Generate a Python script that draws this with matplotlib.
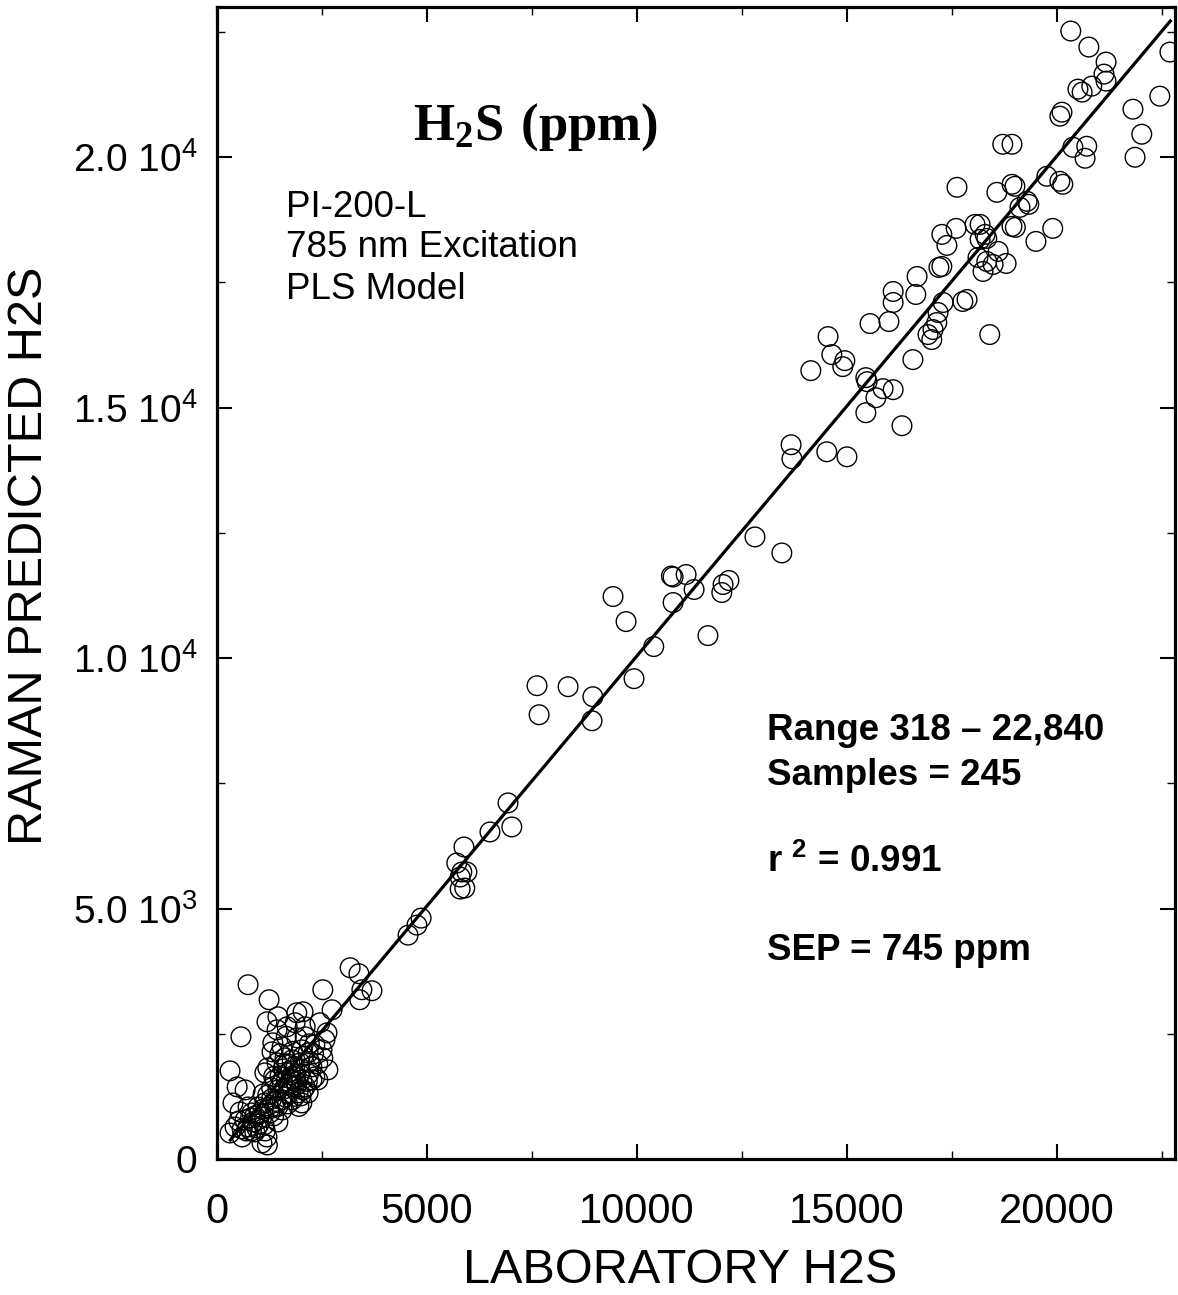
import matplotlib
matplotlib.use('Agg')
import matplotlib.pyplot as plt
from matplotlib.ticker import MultipleLocator, FixedLocator, FixedFormatter

plt.rcParams['font.family'] = 'Liberation Sans'
plt.rcParams['mathtext.fontset'] = 'custom'
plt.rcParams['mathtext.rm'] = 'Liberation Sans'
plt.rcParams['mathtext.bf'] = 'Liberation Serif:bold'
plt.rcParams['mathtext.sf'] = 'Liberation Sans:bold'

# high range samples (lab value, raman predicted)
lab_high = [20330, 20760, 21170, 21120, 21170, 20830, 20500, 20600, 20120, 20070,
            22690, 22450, 21810, 22020, 21860, 18710, 18930, 20380, 20710, 20670,
            19760, 20070, 20140, 17620, 18570, 18930, 19000, 19290, 19330, 19120,
            18930, 19010, 19900, 19500, 17260, 17600, 17380, 18050, 18170, 18170,
            18290, 18600, 18120, 18330, 18480, 18790, 18240, 17190, 17260, 16670,
            16100, 16100, 16640, 16000, 17290, 17760, 17860, 17170, 17140, 17050,
            16930, 17020, 18400, 16570, 15550, 14550, 14640, 14950, 14900, 14140,
            15450, 15480, 15860, 16100, 15690, 15450, 16310, 13670, 13690, 14520,
            15000, 12810, 13450, 18330]
pred_high = [22520, 22200, 21900, 21660, 21520, 21420, 21360, 21300, 20900, 20820,
             22100, 21220, 20960, 20460, 20000, 20260, 20260, 20200, 20220, 19980,
             19620, 19520, 19460, 19400, 19300, 19460, 19420, 19120, 19060, 19000,
             18620, 18600, 18580, 18320, 18460, 18580, 18240, 18660, 18660, 18360,
             18460, 18120, 18000, 17920, 17860, 17880, 17720, 17800, 17820, 17620,
             17320, 17100, 17260, 16720, 17100, 17120, 17160, 16900, 16700, 16560,
             16460, 16360, 16460, 15960, 16680, 16420, 16060, 15940, 15820, 15740,
             15600, 15520, 15380, 15360, 15200, 14900, 14640, 14260, 13980, 14120,
             14020, 12420, 12100, 18380]

# mid range samples
lab_mid = [10820, 10860, 11170, 11360, 12050, 12190, 12020, 10860, 9430, 9740,
           11690, 10400, 9930, 8360, 8950, 8930, 7620, 7670, 6930, 7020,
           6500, 5880, 5710, 5830, 5950, 5790, 5790, 5900, 4860, 4760, 4550]
pred_mid = [11640, 11620, 11670, 11370, 11470, 11550, 11310, 11110, 11230, 10730,
            10450, 10230, 9590, 9430, 9230, 8750, 9450, 8870, 7110, 6630,
            6530, 6230, 5910, 5730, 5730, 5630, 5390, 5410, 4810, 4670, 4470]

# low range cluster
lab_low = [3170, 3380, 3690, 3450, 3400, 2520, 2740, 2050, 740, 1240,
           570, 310, 1190, 1450, 1900, 1430, 2450, 2620, 2570, 2500,
           1330, 1310, 1900, 2100, 2330, 2520, 1210, 1430, 1620, 1790,
           1980, 2260, 2330, 1690, 1860, 2020, 1550, 1790, 2100, 1930,
           1620, 2260, 1380, 1140, 1450, 1790, 480, 670, 380, 740,
           980, 1140, 1380, 1260, 1450, 1070, 310, 430, 600, 740,
           900, 670, 1070, 1190, 860, 550, 830, 1550, 1210, 1860,
           1670, 2100, 2020, 2170, 1550, 2640, 2400, 2170, 2020, 1550,
           1200,
           1650, 1720, 1880, 1960, 2180, 1600, 1700, 1850, 2050, 1500,
           900, 1000, 800, 1100, 950, 700, 1300, 1350, 600, 1150,
           1760, 1900, 2000, 1580, 1680, 2200, 2300, 1400, 1250, 1000,
           820, 520, 1120, 1680, 1950, 2400, 2200, 1800, 1500, 1650,
           1350, 1450, 2150, 1750, 1600, 2050, 1850, 1300, 1100]
pred_low = [3820, 3700, 3360, 3380, 3180, 3380, 2980, 2940, 3480, 3180,
            2440, 1760, 2740, 2840, 2920, 2580, 2720, 2520, 2380, 2180,
            2320, 2140, 2420, 2440, 2280, 2020, 1820, 1920, 2020, 1980,
            1920, 1840, 1640, 1720, 1640, 1580, 1520, 1440, 1440, 1320,
            1240, 1580, 1580, 1720, 1380, 1180, 1440, 1380, 1120, 1040,
            1040, 1120, 1040, 920, 740, 840, 520, 640, 440, 640,
            540, 780, 320, 440, 740, 940, 920, 980, 1280, 2720,
            2640, 2640, 2180, 2120, 2240, 1780, 1580, 1320, 1120, 1180,
            280,
            1560, 1480, 1540, 1700, 1700, 1400, 1300, 1250, 1380, 1650,
            860, 700, 820, 1000, 620, 560, 1200, 860, 600, 560,
            1600, 1480, 1260, 1800, 1900, 1950, 2100, 1150, 1000, 900,
            560, 760, 680, 1100, 1050, 1900, 2300, 2150, 2100, 2450,
            1650, 1050, 1550, 1750, 1900, 2050, 1850, 1420, 1300]

# regression line end points
fit_x = [318, 22700]
fit_y = [380, 22720]

y_ticks = [0, 5000, 10000, 15000, 20000]
y_ticklabels = ['0', r'5.0 10$^{3}$', r'1.0 10$^{4}$', r'1.5 10$^{4}$', r'2.0 10$^{4}$']

fig = plt.figure(figsize=(11.78, 12.95), dpi=100)
ax = fig.add_axes([0.1842, 0.105, 0.8132, 0.8896])

for lx, py in [(lab_high, pred_high), (lab_mid, pred_mid), (lab_low, pred_low)]:
    ax.scatter(lx, py, s=200, facecolors='none', edgecolors='black', linewidths=1.0, zorder=3)

ax.plot(fit_x, fit_y, color='black', lw=2.3, zorder=4)

ax.set_xlim(0, 22810)
ax.set_ylim(0, 23000)

ax.xaxis.set_major_locator(MultipleLocator(5000))
ax.xaxis.set_minor_locator(MultipleLocator(2500))
ax.yaxis.set_major_locator(FixedLocator(y_ticks))
ax.yaxis.set_major_formatter(FixedFormatter(y_ticklabels))
ax.yaxis.set_minor_locator(MultipleLocator(2500))

ax.tick_params(which='both', direction='in', top=True, right=True, colors='black')
ax.tick_params(which='major', length=11, width=1.5)
ax.tick_params(which='minor', length=5.5, width=1.0)
ax.tick_params(axis='x', which='major', pad=24, labelsize=30)
ax.tick_params(axis='y', which='major', pad=14, labelsize=28)

for sp in ax.spines.values():
    sp.set_linewidth(2.3)

fig.text(0.577, 0.019, 'LABORATORY H2S', fontsize=35, ha='center', va='center')
fig.text(0.025, 0.571, 'RAMAN PREDICTED H2S', fontsize=35, rotation=90, ha='center', va='center')

ax.text(0.333, 0.885, r'$\mathbf{H_2S\ (ppm)}$', transform=ax.transAxes,
        fontsize=38, ha='center', va='baseline')

ax.text(0.072, 0.826, 'PI-200-L', transform=ax.transAxes, fontsize=26.5, va='center')
ax.text(0.072, 0.791, '785 nm Excitation', transform=ax.transAxes, fontsize=26.5, va='center')
ax.text(0.072, 0.755, 'PLS Model', transform=ax.transAxes, fontsize=26.5, va='center')

stats_kw = dict(transform=ax.transAxes, fontsize=26.5, fontweight='bold', va='center')
ax.text(0.574, 0.372, 'Range 318 \u2013 22,840', **stats_kw)
ax.text(0.574, 0.333, 'Samples = 245', **stats_kw)
ax.text(0.574, 0.258, r'r $^{\mathsf{2}}$ = 0.991', **stats_kw)
ax.text(0.574, 0.181, 'SEP = 745 ppm', **stats_kw)

fig.savefig('out.png', dpi=100)
